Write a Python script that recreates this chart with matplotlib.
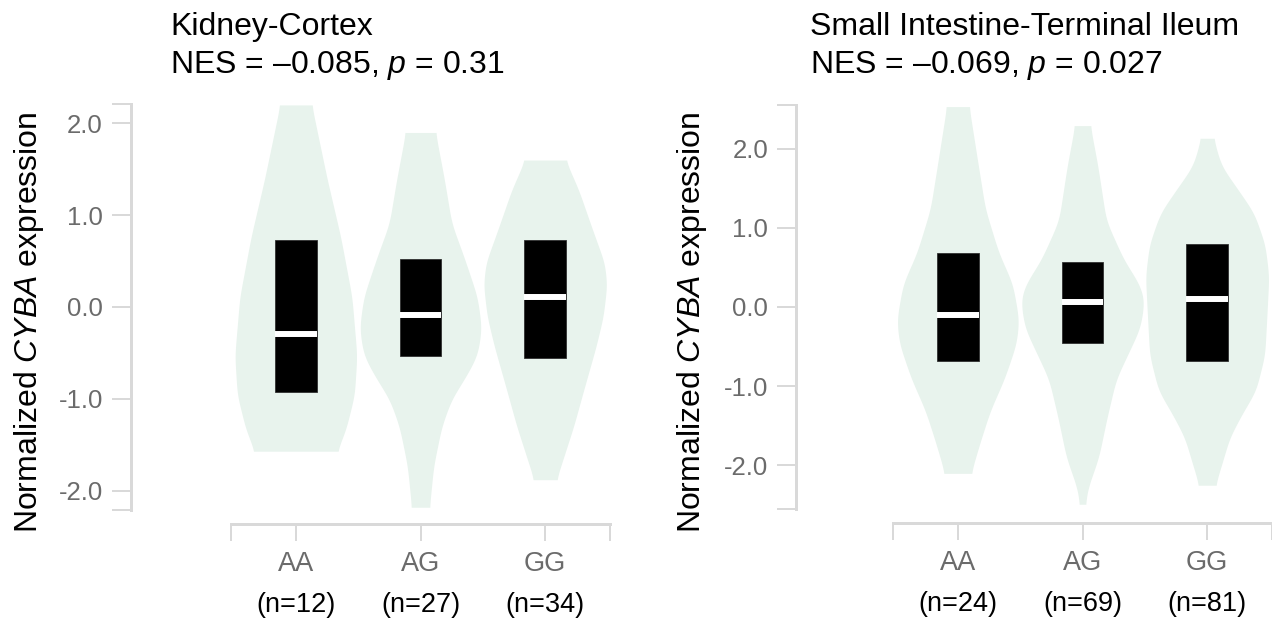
import numpy as np
import matplotlib
matplotlib.use("Agg")
import matplotlib.pyplot as plt
from matplotlib.transforms import blended_transform_factory

plt.rcParams['font.family'] = ['Liberation Sans', 'DejaVu Sans']
plt.rcParams['mathtext.fontset'] = 'custom'
plt.rcParams['mathtext.rm'] = 'Liberation Sans'
plt.rcParams['mathtext.it'] = 'Liberation Sans:italic'

# ---------------- data ----------------
genotypes = ["AA", "AG", "GG"]

kidney_title = "Kidney-Cortex"
kidney_stats = "NES = \u20130.085, $p$ = 0.31"
kidney_n = [12, 27, 34]
kidney_q1 = [-0.93, -0.53, -0.56]
kidney_median = [-0.29, -0.09, 0.11]
kidney_q3 = [0.73, 0.52, 0.73]
# violin outlines: expression levels and half-widths (fraction of category spacing)
kidney_aa_v = [2.20, 1.40, 0.76, 0.11, -0.53, -0.96, -1.34, -1.57]
kidney_aa_w = [0.127, 0.25, 0.36, 0.45, 0.49, 0.47, 0.40, 0.33]
kidney_ag_v = [1.90, 1.40, 0.91, 0.54, 0.11, -0.23, -0.53, -0.79, -1.00, -1.30, -1.73, -2.18]
kidney_ag_w = [0.12, 0.19, 0.25, 0.35, 0.456, 0.49, 0.456, 0.35, 0.25, 0.17, 0.105, 0.072]
kidney_gg_v = [1.60, 1.27, 0.86, 0.48, 0.24, -0.10, -0.42, -0.87, -1.30, -1.64, -1.88]
kidney_gg_w = [0.163, 0.27, 0.375, 0.476, 0.495, 0.466, 0.41, 0.316, 0.228, 0.147, 0.09]

ileum_title = "Small Intestine-Terminal Ileum"
ileum_stats = "NES = \u20130.069, $p$ = 0.027"
ileum_n = [24, 69, 81]
ileum_q1 = [-0.68, -0.45, -0.68]
ileum_median = [-0.095, 0.06, 0.10]
ileum_q3 = [0.68, 0.57, 0.80]
ileum_aa_v = [2.53, 1.88, 1.24, 0.69, 0.29, -0.16, -0.46, -0.90, -1.31, -1.70, -2.10]
ileum_aa_w = [0.09, 0.155, 0.22, 0.327, 0.44, 0.49, 0.47, 0.375, 0.26, 0.18, 0.105]
ileum_ag_v = [2.29, 1.78, 1.09, 0.59, 0.29, 0.09, -0.26, -0.61, -0.91, -1.40, -1.90, -2.30, -2.49]
ileum_ag_w = [0.062, 0.123, 0.19, 0.333, 0.457, 0.497, 0.464, 0.36, 0.27, 0.196, 0.13, 0.04, 0.023]
ileum_gg_v = [2.13, 1.78, 1.51, 1.19, 0.79, 0.39, -0.11, -0.61, -1.06, -1.35, -1.65, -2.00, -2.25]
ileum_gg_w = [0.05, 0.114, 0.235, 0.375, 0.464, 0.495, 0.479, 0.462, 0.39, 0.28, 0.18, 0.114, 0.065]

yticks = [-2.0, -1.0, 0.0, 1.0, 2.0]
ytick_labels = ["-2.0", "-1.0", "0.0", "1.0", "2.0"]

# ---------------- style ----------------
VIOLIN_C = "#e8f3ed"
AXIS_C = "#d9d9d9"
TICKLABEL_C = "#6b6b6b"
PX = 0.72  # points per pixel at dpi 100

fig = plt.figure(figsize=(12.72, 6.19), dpi=100)
W, H = 1272, 619


def px_axes(x0, x1, ytop, ybot):
    return fig.add_axes([x0 / W, (H - ybot) / H, (x1 - x0) / W, (ybot - ytop) / H])


def smooth_profile(v, w, n=500, k=28):
    v = np.asarray(v, float)
    w = np.asarray(w, float)
    order = np.argsort(v)
    vs, ws = v[order], w[order]
    yy = np.linspace(vs[0], vs[-1], n)
    ww = np.interp(yy, vs, ws)
    kern = np.hanning(2 * k + 1)
    kern /= kern.sum()
    pad = np.pad(ww, k, mode="edge")
    ww = np.convolve(pad, kern, mode="valid")
    return yy, ww


def panel(ax, title, stats, ns, q1, med, q3, profiles, ylim, spine_out, title_x):
    for i, (v, w) in enumerate(profiles):
        yy, ww = smooth_profile(v, w)
        ax.fill_betweenx(yy, i - ww, i + ww, color=VIOLIN_C, lw=0, zorder=1)
    bw = 0.168
    for i in range(len(genotypes)):
        ax.bar(i, q3[i] - q1[i], bottom=q1[i], width=2 * bw, color="black",
               edgecolor="#303030", lw=0.6, zorder=2)
        ax.plot([i - bw, i + bw], [med[i], med[i]], color="white", lw=4.3,
                solid_capstyle="butt", zorder=3)

    ax.set_xlim(-0.52, 2.52)
    ax.set_ylim(*ylim)
    for s in ["top", "right"]:
        ax.spines[s].set_visible(False)
    ax.spines["left"].set_position(("outward", spine_out * PX))
    ax.spines["bottom"].set_position(("outward", 14 * PX))
    for s in ["left", "bottom"]:
        ax.spines[s].set_color(AXIS_C)
        ax.spines[s].set_linewidth(3 * PX)

    ax.set_yticks(yticks)
    ax.set_yticklabels(ytick_labels)
    ax.set_yticks(list(ylim), minor=True)
    ax.set_xticks(range(len(genotypes)))
    ax.set_xticklabels([])
    ax.set_xticks([-0.52, 2.52], minor=True)
    ax.tick_params(axis="y", which="both", direction="out", length=19 * PX,
                   width=2 * PX, color=AXIS_C, labelsize=18.5,
                   labelcolor=TICKLABEL_C, pad=9 * PX)
    ax.tick_params(axis="x", which="both", direction="out", length=17 * PX,
                   width=2 * PX, color=AXIS_C)
    ax.patch.set_alpha(0)

    tr = blended_transform_factory(ax.transData, ax.transAxes)
    for i, g in enumerate(genotypes):
        ax.annotate(g, xy=(i, 0), xycoords=tr, xytext=(0, -54 * PX),
                    textcoords="offset points", ha="center", va="center",
                    fontsize=19.5, color=TICKLABEL_C)
        ax.annotate(f"(n={ns[i]})", xy=(i, 0), xycoords=tr, xytext=(0, -95 * PX),
                    textcoords="offset points", ha="center", va="center",
                    fontsize=19.5, color="black")

    fig.text(title_x / W, 1 - 35 / H, title, fontsize=23, ha="left", va="baseline")
    fig.text(title_x / W, 1 - 73 / H, stats, fontsize=23, ha="left", va="baseline")


ax1 = px_axes(231, 610, 104, 510)
panel(ax1, kidney_title, kidney_stats, kidney_n, kidney_q1, kidney_median, kidney_q3,
      [(kidney_aa_v, kidney_aa_w), (kidney_ag_v, kidney_ag_w), (kidney_gg_v, kidney_gg_w)],
      (-2.21, 2.21), 100, 170)

ax2 = px_axes(893, 1272, 105, 509)
panel(ax2, ileum_title, ileum_stats, ileum_n, ileum_q1, ileum_median, ileum_q3,
      [(ileum_aa_v, ileum_aa_w), (ileum_ag_v, ileum_ag_w), (ileum_gg_v, ileum_gg_w)],
      (-2.55, 2.55), 97, 810)

ylabel = "Normalized $\\mathit{CYBA}$ expression"
fig.text(29 / W, 1 - 322 / H, ylabel, rotation=90, ha="center", va="center", fontsize=23)
fig.text(692 / W, 1 - 322 / H, ylabel, rotation=90, ha="center", va="center", fontsize=23)

fig.savefig("out.png", dpi=100)
